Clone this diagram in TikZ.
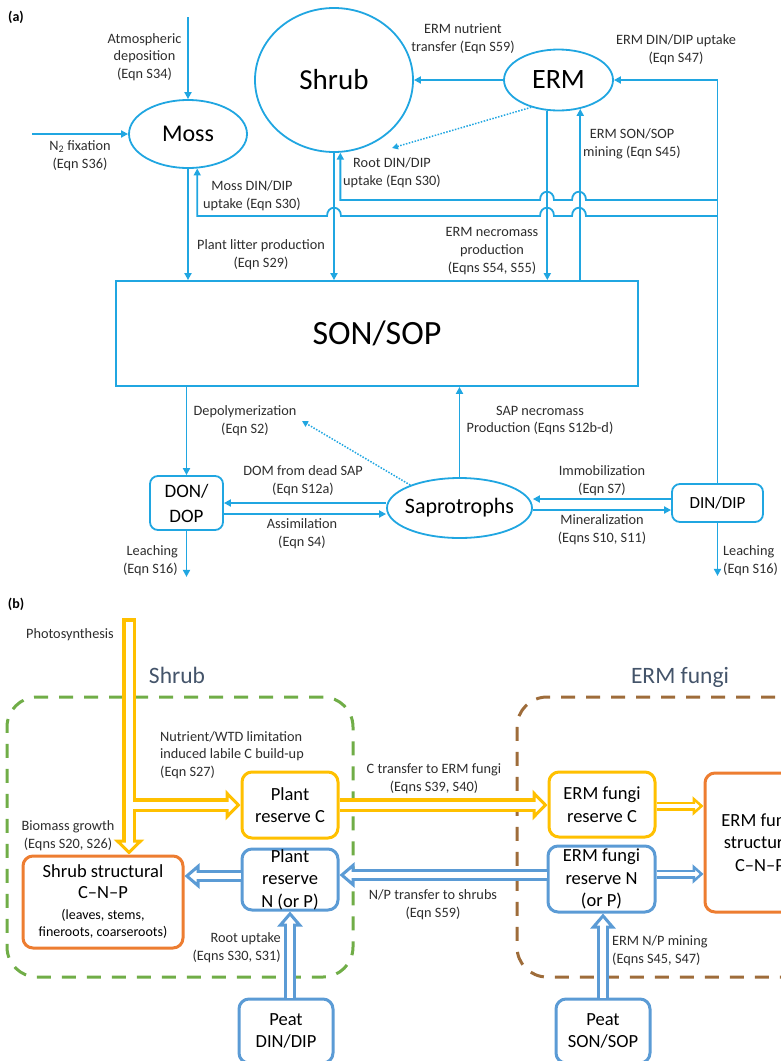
\documentclass[tikz,border=0pt]{standalone}
\usepackage{fontspec}
\setmainfont{Carlito}
\usetikzlibrary{arrows.meta,shapes.geometric}

\definecolor{skyb}{RGB}{32,166,225}
\definecolor{ylw}{RGB}{255,192,0}
\definecolor{org}{RGB}{237,125,49}
\definecolor{stb}{RGB}{91,155,213}
\definecolor{grn}{RGB}{112,173,71}
\definecolor{brn}{RGB}{158,108,58}
\definecolor{slate}{RGB}{68,84,106}
\definecolor{txt}{RGB}{45,45,45}

\tikzset{
  ln/.style={draw=skyb, line width=1.8pt},
  ar/.style={ln, -{Triangle[length=7pt,width=7pt]}},
  dotar/.style={draw=skyb, line width=1.5pt, dash pattern=on 1.5pt off 1.5pt, -{Triangle[length=6pt,width=6pt]}},
  pool/.style={ellipse, draw=skyb, line width=1.8pt, inner sep=0pt, text=black},
  cbox/.style={draw=skyb, line width=1.8pt, rounded corners=8pt, align=center, inner sep=0pt, text=black},
  lbl/.style={font=\fontsize{14.3}{17.7}\selectfont, text=txt, align=center, inner sep=0pt},
  box/.style={line width=3pt, rounded corners=10pt, fill=white, align=center, inner sep=0pt, text=black, font=\fontsize{18.5}{22.5}\selectfont},
  grp/.style={line width=3pt, dash pattern=on 14pt off 11pt, rounded corners=30pt, inner sep=0pt},
  grptitle/.style={font=\fontsize{23.5}{28}\selectfont, text=slate, inner sep=0pt},
  fatout/.style={line width=14pt, -{Triangle[length=15pt,width=30pt,line width=3pt,fill=white]}},
  fatin/.style={draw=white, line width=7pt, shorten >=10pt},
  midout/.style={line width=12pt, -{Triangle[length=15pt,width=25pt,line width=3pt,fill=white]}},
  midin/.style={draw=white, line width=5.5pt, shorten >=10pt},
  thinout/.style={line width=9pt, -{Triangle[length=11pt,width=19pt,line width=2.5pt,fill=white]}},
  thinin/.style={draw=white, line width=4pt, shorten >=7pt},
}

\begin{document}
\begin{tikzpicture}[x=1pt, y=-1pt]
\useasboundingbox (0,0) rectangle (781,1061);
\clip (0,0) rectangle (781,1061);

% ---------------- (a) ----------------
\node[font=\bfseries\fontsize{14}{16}\selectfont, inner sep=0pt] (pa) at (16,17) {(a)};

\node[pool, minimum width=118pt, minimum height=68pt, font=\fontsize{24}{28}\selectfont] (moss) at (188,134) {Moss};
\node[pool, minimum width=158pt, minimum height=144pt, font=\fontsize{29}{34}\selectfont] (shrub) at (334,80) {Shrub};
\node[pool, minimum width=109pt, minimum height=61pt, font=\fontsize{28}{32}\selectfont] (erm) at (558.5,80) {ERM};
\node[draw=skyb, line width=1.8pt, minimum width=522pt, minimum height=105pt, font=\fontsize{34}{40}\selectfont] (sonsop) at (377,333.5) {SON/SOP};
\node[cbox, minimum width=73pt, minimum height=54pt, font=\fontsize{19}{25}\selectfont] (donop) at (186.5,503) {DON/\\DOP};
\node[pool, inner xsep=-5pt, minimum width=145pt, minimum height=60pt, font=\fontsize{22}{26}\selectfont] (sap) at (459.5,508) {Saprotrophs};
\node[cbox, minimum width=91pt, minimum height=38pt, font=\fontsize{17}{20}\selectfont] (dindip) at (717.5,503) {DIN/DIP};

\coordinate (atm) at (188,17);
\coordinate (fix) at (32,134);
\coordinate (rootend) at (392,148);
\coordinate (depend) at (302,421);
\coordinate (tR) at (dindip.north |- 0,200);
\coordinate (tM) at (dindip.north |- 0,216);

\draw[ar] (atm) -- (moss);
\draw[ar] (fix) -- (moss);
\draw[ar] (erm) -- (shrub);
\draw[ar] (dindip.north) |- (erm.east);
\draw[dotar] (erm.225) -- (rootend);
% uptake lines hop over the downward flows
\draw[ar] (tR) -- (586,200) .. controls +(0,-11) and +(0,-11) .. (572,200)
  -- (554,200) .. controls +(0,-11) and +(0,-11) .. (540,200) -| (shrub.275);
\draw[ar] (tM) -- (586,216) .. controls +(0,-11) and +(0,-11) .. (572,216)
  -- (554,216) .. controls +(0,-11) and +(0,-11) .. (540,216)
  -- (341,216) .. controls +(0,-11) and +(0,-11) .. (327,216) -| (moss.285);
\draw[ar] (moss.south) -- (moss.south |- sonsop.north);
\draw[ar] (shrub.south) -- (shrub.south |- sonsop.north);
\draw[ar] (erm.250) -- (erm.250 |- sonsop.north);
\draw[ar] (erm.307 |- sonsop.north) -- (erm.307);
\draw[ar] (donop.north |- sonsop.south) -- (donop.north);
\draw[ar] (sap.north) -- (sap.north |- sonsop.south);
\draw[dotar] (sap.155) -- (depend);
\draw[ar] (sap.west |- 0,503) -- (donop.east |- 0,503);
\draw[ar] (donop.east |- 0,514) -- (sap.west |- 0,514);
\draw[ar] (dindip.west |- 0,499) -- (sap.east |- 0,499);
\draw[ar] (sap.east |- 0,510) -- (dindip.west |- 0,510);
\draw[ar] (donop.south) -- ++(0,46);
\draw[ar] (dindip.south) -- ++(0,53);

\node[lbl] (lAtm) at (144.5,57) {Atmospheric\\deposition\\(Eqn S34)};
\node[lbl] (lFix) at (80,155.5) {N\textsubscript{2} fixation\\(Eqn S36)};
\node[lbl] (lTrans) at (463,39) {ERM nutrient\\transfer (Eqn S59)};
\node[lbl] (lErmUp) at (676,50) {ERM DIN/DIP uptake\\(Eqn S47)};
\node[lbl] (lRoot) at (392,172.5) {Root DIN/DIP\\uptake (Eqn S30)};
\node[lbl] (lMine) at (632,143.5) {ERM SON/SOP\\mining (Eqn S45)};
\node[lbl] (lMoss) at (252,196) {Moss DIN/DIP\\uptake (Eqn S30)};
\node[lbl] (lLit) at (261,255) {Plant litter production\\(Eqn S29)};
\node[lbl] (lNec) at (492,251) {ERM necromass\\production\\(Eqns S54, S55)};
\node[lbl] (lDep) at (245,421) {Depolymerization\\(Eqn S2)};
\node[lbl] (lDom) at (303,481) {DOM from dead SAP\\(Eqn S12a)};
\node[lbl] (lAss) at (302,534) {Assimilation\\(Eqn S4)};
\node[lbl, align=right, anchor=east] (lLch1) at (178,561) {Leaching\\(Eqn S16)};
\node[lbl] (lSapN) at (540,420.5) {SAP necromass\\Production (Eqns S12b-d)};
\node[lbl] (lImm) at (602,481) {Immobilization\\(Eqn S7)};
\node[lbl] (lMin) at (602,530) {Mineralization\\(Eqns S10, S11)};
\node[lbl, align=left, anchor=west] (lLch2) at (723,561) {Leaching\\(Eqn S16)};

% ---------------- (b) ----------------
\node[font=\bfseries\fontsize{14}{16}\selectfont, inner sep=0pt] (pb) at (16,604) {(b)};

\node[grp, draw=grn, minimum width=346pt, minimum height=280pt] (gshrub) at (180,837) {};
\node[grp, draw=brn, minimum width=363pt, minimum height=280pt] (germ) at (698.5,837) {};
\node[grptitle] (tshrub) at (177,675) {Shrub};
\node[grptitle] (term) at (680,677) {ERM fungi};

\node[box, draw=ylw, minimum width=96pt, minimum height=66pt] (plantC) at (290,805) {Plant\\reserve C};
\node[box, draw=stb, minimum width=96pt, minimum height=61pt] (plantN) at (290,879.5) {Plant\\reserve\\N (or P)};
\node[box, draw=org, minimum width=160pt, minimum height=92pt] (shrubS) at (103,902)
  {Shrub structural\\[-1.5pt]C–N–P\\[-1.5pt]{\fontsize{14}{17}\selectfont (leaves, stems,}\\[-5.5pt]{\fontsize{14}{17}\selectfont fineroots, coarseroots)}};
\node[box, draw=ylw, minimum width=106pt, minimum height=65pt] (fungiC) at (602,804.5) {ERM fungi\\reserve C};
\node[box, draw=stb, minimum width=107pt, minimum height=66pt] (fungiN) at (601.5,879) {ERM fungi\\reserve N\\(or P)};
\node[box, draw=org, minimum width=110pt, minimum height=139pt] (fungiS) at (760,842.5) {ERM fungi\\structural\\C–N–P};
\node[box, draw=stb, minimum width=94pt, minimum height=64pt] (peatD) at (286,1031) {Peat\\DIN/DIP};
\node[box, draw=stb, minimum width=94pt, minimum height=64pt] (peatS) at (603,1031) {Peat\\SON/SOP};

\coordinate (sun) at (129,618);
\coordinate (nL) at ([yshift=4pt]fungiN.west);
\coordinate (sL) at ([yshift=3.5pt]plantN.west);
\coordinate (nR) at ([yshift=5pt]fungiN.east);
\coordinate (cR) at ([yshift=-1.5pt]fungiC.east);

% outlines first
\draw[ylw, fatout] (sun) -- (sun |- shrubS.north);
\draw[ylw, fatout] (sun |- plantC.west) -- (plantC.west);
\draw[ylw, fatout] (plantC.east) -- (plantC.east -| fungiC.west);
\draw[ylw, thinout] (cR) -- (cR -| fungiS.west);
\draw[stb, midout] (nL) -- (nL -| plantN.east);
\draw[stb, midout] (sL) -- (sL -| shrubS.east);
\draw[stb, midout] (plantN.south |- peatD.north) -- (plantN.south);
\draw[stb, midout] (peatS.north) -- (peatS.north |- fungiN.south);
\draw[stb, thinout] (nR) -- (nR -| fungiS.west);
% then the hollow insides
\draw[fatin, shorten <=3.5pt] (sun) -- (sun |- shrubS.north);
\draw[fatin] (sun |- plantC.west) -- (plantC.west);
\draw[fatin] (plantC.east) -- (plantC.east -| fungiC.west);
\draw[thinin] (cR) -- (cR -| fungiS.west);
\draw[midin] (nL) -- (nL -| plantN.east);
\draw[midin] (sL) -- (sL -| shrubS.east);
\draw[midin] (plantN.south |- peatD.north) -- (plantN.south);
\draw[midin] (peatS.north) -- (peatS.north |- fungiN.south);
\draw[thinin] (nR) -- (nR -| fungiS.west);

\node[lbl] (lPhoto) at (70,635) {Photosynthesis};
\node[lbl, align=left, anchor=west] (lBuild) at (160,755) {Nutrient/WTD limitation\\induced labile C build-up\\(Eqn S27)};
\node[lbl] (lCtr) at (434,779) {C transfer to ERM fungi\\(Eqns S39, S40)};
\node[lbl] (lBio) at (68,835.5) {Biomass growth\\(Eqns S20, S26)};
\node[lbl] (lNP) at (433,905) {N/P transfer to shrubs\\(Eqn S59)};
\node[lbl, align=right, anchor=east] (lRootUp) at (281,948) {Root uptake\\(Eqns S30, S31)};
\node[lbl, align=left, anchor=west] (lMining) at (612,951) {ERM N/P mining\\(Eqns S45, S47)};

\end{tikzpicture}
\end{document}
